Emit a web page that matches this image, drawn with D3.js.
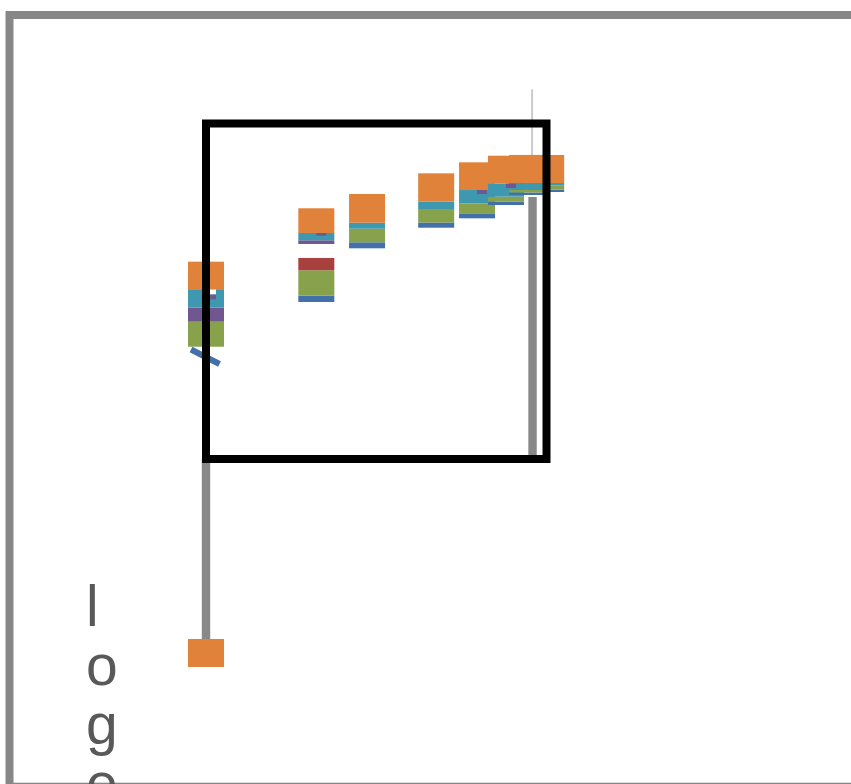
<!DOCTYPE html>
<html>
<head>
<meta charset="utf-8">
<script src="https://cdn.jsdelivr.net/npm/d3@7"></script>
<style>
html,body{margin:0;padding:0;background:#fff;}
svg{display:block;}
</style>
</head>
<body>
<svg id="chart" width="851" height="784"></svg>
<script>
// ---- data (listed in drawing order) ----
const groupX   = [0, 3.24, 4.73, 6.76, 7.96, 8.81, 9.99, 9.43];
const groupBase = [33.47, 46.80, 62.80, 68.94, 71.74, 75.71, 79.58, 78.69];
const seriesNames = ["blue", "green", "red", "gap", "purple", "aqua", "orange"];
const blueVals   = [0,    1.88, 1.79, 1.55, 1.49, 0.98, 0.69, 0.75];
const greenVals  = [7.45, 7.57, 4.05, 4.02, 2.98, 1.49, 1.31, 0.75];
const redVals    = [0,    3.67, 0,    0,    0,    0,    0,    0];
const gapVals    = [0,    4.17, 0,    0,    0,    0,    0,    0];
const purpleVals = [4.17, 1.10, 0,    0,    0,    0,    0,    0];
const aquaVals   = [5.28, 2.18, 1.79, 2.18, 3.96, 3.87, 0.69, 2.09];
const orangeVals = [8.44, 7.36, 8.55, 8.46, 8.26, 8.35, 8.35, 8.35];

// outlier orange bar below the box
const outlierX = [0];
const outlierLow = [-62.0];
const outlierHigh = [-53.65];

// small marks at the aqua/orange boundary
const markX      = [0,     0,     3.24,  7.96,  8.81];
const markLow    = [47.60, 49.09, 66.56, 78.99, 80.77];
const markHigh   = [49.09, 50.52, 67.36, 80.18, 82.06];
const markSeries = ["purple", "white", "purple", "purple", "purple"];

// blue line series
const lineX = [-0.44, 0.396];
const lineY = [32.64, 28.32];

// drop lines
const dropX = [0, 9.59];
const dropLow = [-53.65, 0];
const dropHigh = [0, 78.09];
const wickX = [9.59];
const wickLow = [90.61];
const wickHigh = [110.19];

const yTitle = "loge";

// ---- styles ----
const colors = {
  blue: "#4270a8", green: "#87a24a", red: "#a8403d", gap: "none",
  purple: "#71578f", aqua: "#3e98b0", orange: "#e08239", white: "#ffffff"
};
const barW = 36;
const markW = 10;

const svg = d3.select("#chart");
const x = d3.scaleLinear().domain([0, 10]).range([206, 546.5]);
const y = d3.scaleLinear().domain([0, 100]).range([459, 123.5]);

// outer frame
svg.append("rect").attr("x", 5.5).attr("y", 11).attr("width", 900).attr("height", 900).attr("fill", "#878787");
svg.append("rect").attr("x", 13.5).attr("y", 19).attr("width", 900).attr("height", 763.7).attr("fill", "#ffffff");

// drop lines
const drops = dropX.map((d, i) => ({x: d, lo: dropLow[i], hi: dropHigh[i]}));
svg.selectAll("line.drop").data(drops).join("line").attr("class", "drop")
  .attr("x1", d => x(d.x)).attr("x2", d => x(d.x))
  .attr("y1", d => y(d.lo)).attr("y2", d => y(d.hi))
  .attr("stroke", "#888").attr("stroke-width", 8.4);
const wicks = wickX.map((d, i) => ({x: d, lo: wickLow[i], hi: wickHigh[i]}));
svg.selectAll("line.wick").data(wicks).join("line").attr("class", "wick")
  .attr("x1", d => x(d.x) - 0.5).attr("x2", d => x(d.x) - 0.5)
  .attr("y1", d => y(d.lo)).attr("y2", d => y(d.hi))
  .attr("stroke", "#999").attr("stroke-width", 1);

// stacked bars
const valuesBySeries = {blue: blueVals, green: greenVals, red: redVals, gap: gapVals,
  purple: purpleVals, aqua: aquaVals, orange: orangeVals};
const groups = groupX.map((gx, i) => {
  let acc = groupBase[i];
  const segs = seriesNames.map(s => {
    const v = valuesBySeries[s][i];
    const seg = {series: s, y0: acc, y1: acc + v};
    acc += v;
    return seg;
  }).filter(s => s.y1 > s.y0 && s.series !== "gap");
  return {x: gx, segs};
});
const gSel = svg.selectAll("g.stack").data(groups).join("g").attr("class", "stack");
gSel.selectAll("rect").data(d => d.segs.map(s => ({...s, x: d.x}))).join("rect")
  .attr("x", d => x(d.x) - barW / 2).attr("width", barW)
  .attr("y", d => y(d.y1)).attr("height", d => y(d.y0) - y(d.y1))
  .attr("fill", d => colors[d.series]);

// outlier
const outl = outlierX.map((d, i) => ({x: d, lo: outlierLow[i], hi: outlierHigh[i]}));
svg.selectAll("rect.outlier").data(outl).join("rect").attr("class", "outlier")
  .attr("x", d => x(d.x) - barW / 2).attr("width", barW)
  .attr("y", d => y(d.hi)).attr("height", d => y(d.lo) - y(d.hi))
  .attr("fill", colors.orange);

// marks
const marks = markX.map((d, i) => ({x: d, lo: markLow[i], hi: markHigh[i], s: markSeries[i]}));
svg.selectAll("rect.mark").data(marks).join("rect").attr("class", "mark")
  .attr("x", d => x(d.x)).attr("width", markW)
  .attr("y", d => y(d.hi)).attr("height", d => y(d.lo) - y(d.hi))
  .attr("fill", d => colors[d.s]);

// blue line
const linePts = lineX.map((d, i) => [d, lineY[i]]);
svg.append("path").datum(linePts)
  .attr("d", d3.line().x(d => x(d[0])).y(d => y(d[1])))
  .attr("fill", "none").attr("stroke", colors.blue).attr("stroke-width", 6);

// plot box
svg.append("rect")
  .attr("x", x(0)).attr("y", y(100))
  .attr("width", x(10) - x(0)).attr("height", y(0) - y(100))
  .attr("fill", "none").attr("stroke", "#000").attr("stroke-width", 8);

// y title, one character per line
const t = svg.append("text")
  .attr("x", 86).attr("y", 626)
  .attr("font-family", "'Liberation Sans', Arial, sans-serif")
  .attr("font-size", 57).attr("fill", "#595959");
t.selectAll("tspan").data(yTitle.split("")).join("tspan")
  .attr("x", 86).attr("dy", (d, i) => i === 0 ? 0 : 59).text(d => d);
</script>
</body>
</html>
